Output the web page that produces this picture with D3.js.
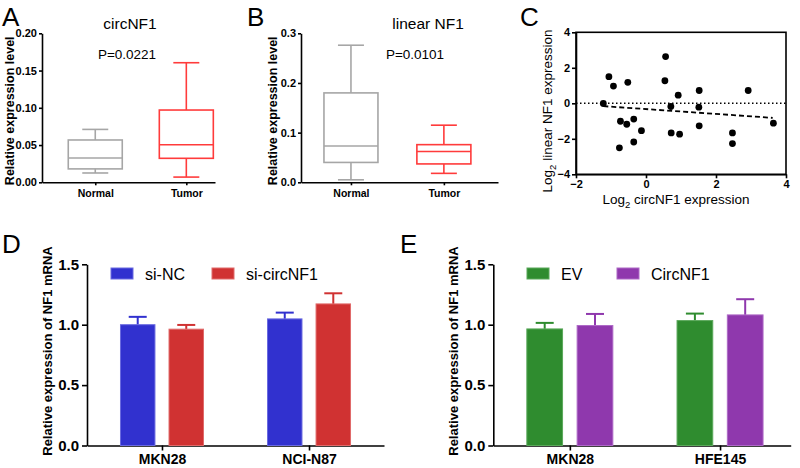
<!DOCTYPE html>
<html><head><meta charset="utf-8">
<script src="https://cdn.jsdelivr.net/npm/d3@7"></script>
<style>
body{margin:0;background:#fff}
svg{display:block}
text{font-family:"Liberation Sans",Arial,sans-serif}
</style>
</head><body>
<svg id="chart" width="800" height="468"></svg>
<script>
// ---------- DATA ----------
const boxCategories = ["Normal", "Tumor"];
// [min, q1, median, q3, max]
const circNF1Normal = [0.0125, 0.018, 0.0326, 0.0568, 0.071];
const circNF1Tumor  = [0.007, 0.0322, 0.0505, 0.097, 0.1605];
const linearNF1Normal = [0.005, 0.040, 0.073, 0.180, 0.276];
const linearNF1Tumor  = [0.018, 0.037, 0.062, 0.0758, 0.115];
const circTicks = [0, 0.05, 0.10, 0.15, 0.20];
const linearTicks = [0, 0.1, 0.2, 0.3];

const scatterX = [-1.22, -1.06, -0.93, -0.52, 0.56, 0.54, 0.92, 1.52, 2.92, 0.71, 1.51, -0.73, -0.55, -0.35, -0.13, -0.76, -0.35, 0.72, 0.96, 1.52, 2.47, 2.47, 3.64];
const scatterY = [-0.01, 1.50, 0.97, 1.18, 2.63, 1.27, 0.46, 0.72, 0.72, -0.18, -0.22, -1.01, -1.18, -0.89, -1.54, -2.51, -2.18, -1.67, -1.74, -1.27, -1.67, -2.27, -1.12];
const trendX = [-1.22, 3.62];
const trendY = [-0.16, -0.82];
const scatterXTicks = [-2, 0, 2, 4];
const scatterYTicks = [-4, -2, 0, 2, 4];

const groupsD = ["MKN28", "NCI-N87"];
const seriesD = ["si-NC", "si-circNF1"];
const siNC = [1.00, 1.048];
const siNCErr = [0.065, 0.052];
const siCircNF1 = [0.963, 1.172];
const siCircNF1Err = [0.035, 0.088];

const groupsE = ["MKN28", "HFE145"];
const seriesE = ["EV", "CircNF1"];
const ev = [0.965, 1.034];
const evErr = [0.050, 0.058];
const circNF1 = [0.993, 1.081];
const circNF1Err = [0.096, 0.130];
const barTicks = [0, 0.5, 1.0, 1.5];

// ---------- DRAW ----------
const svg = d3.select("#chart");
const FONT = '"Liberation Sans", Arial, sans-serif';

function letter(x, y, t) {
  svg.append("text").attr("x", x).attr("y", y).attr("font-size", 26).text(t);
}
function styleAxis(g, fs) {
  g.selectAll("path.domain").attr("stroke", "#000").attr("stroke-width", 1.6);
  g.selectAll(".tick line").attr("stroke", "#000").attr("stroke-width", 1.6);
  g.selectAll(".tick text").attr("font-family", FONT).attr("font-weight", "bold").attr("font-size", fs).attr("fill", "#000");
}

// ----- Box panels -----
function boxPanel(o) {
  const y = d3.scaleLinear().domain([0, o.ticks[o.ticks.length - 1]]).range([o.y0, o.y1]);
  const x = d3.scalePoint().domain(boxCategories).range([o.x0, o.x1]).padding(o.pad).align(o.align);
  const gy = svg.append("g").attr("transform", `translate(${o.x0},0)`)
    .call(d3.axisLeft(y).tickValues(o.ticks).tickFormat(d3.format(o.fmt)).tickSize(3).tickSizeOuter(0).tickPadding(2));
  styleAxis(gy, 11);
  const gx = svg.append("g").attr("transform", `translate(0,${o.y0})`)
    .call(d3.axisBottom(x).tickSize(3).tickSizeOuter(0).tickPadding(4));
  styleAxis(gx, 10.5);
  const colors = ["#a6a6a6", "#ff3b3b"];
  const bw = 54, cw = 26;
  [o.normal, o.tumor].forEach((s, i) => {
    const cx = x(boxCategories[i]);
    const g = svg.append("g").attr("stroke", colors[i]).attr("stroke-width", 1.6).attr("fill", "none");
    g.append("rect").attr("x", cx - bw / 2).attr("y", y(s[3])).attr("width", bw).attr("height", y(s[1]) - y(s[3])).attr("fill", "#fff");
    g.append("line").attr("x1", cx - bw / 2).attr("x2", cx + bw / 2).attr("y1", y(s[2])).attr("y2", y(s[2]));
    g.append("line").attr("x1", cx).attr("x2", cx).attr("y1", y(s[3])).attr("y2", y(s[4]));
    g.append("line").attr("x1", cx).attr("x2", cx).attr("y1", y(s[1])).attr("y2", y(s[0]));
    g.append("line").attr("x1", cx - cw / 2).attr("x2", cx + cw / 2).attr("y1", y(s[4])).attr("y2", y(s[4]));
    g.append("line").attr("x1", cx - cw / 2).attr("x2", cx + cw / 2).attr("y1", y(s[0])).attr("y2", y(s[0]));
  });
  svg.append("text").attr("transform", `translate(${o.ylabX},${(o.y0 + o.y1) / 2 + 3}) rotate(-90)`)
    .attr("text-anchor", "middle").attr("font-weight", "bold").attr("font-size", 12.5).text("Relative expression level");
  svg.append("text").attr("x", o.titleX).attr("y", 29).attr("text-anchor", "middle").attr("font-size", 15.5).text(o.title);
  svg.append("text").attr("x", o.pX).attr("y", 59).attr("text-anchor", "middle").attr("font-size", 13.5).text(o.p);
}

boxPanel({x0: 42, x1: 215, y0: 182.3, y1: 33.3, ticks: circTicks, fmt: ".2f", pad: 0.45, align: 0.65,
  normal: circNF1Normal, tumor: circNF1Tumor, ylabX: 14, title: "circNF1", titleX: 130, p: "P=0.0221", pX: 127});
boxPanel({x0: 301, x1: 498, y0: 182.3, y1: 33.3, ticks: linearTicks, fmt: ".1f", pad: 0.56, align: 0.48,
  normal: linearNF1Normal, tumor: linearNF1Tumor, ylabX: 277, title: "linear NF1", titleX: 428, p: "P=0.0101", pX: 415});

letter(2, 26, "A");
letter(247, 26, "B");
letter(520, 26, "C");
letter(2, 253, "D");
letter(400, 253, "E");

// ----- Scatter panel C -----
(function () {
  const x = d3.scaleLinear().domain([-2, 4]).range([576, 786]);
  const y = d3.scaleLinear().domain([-4, 4]).range([174.3, 32.3]);
  svg.append("rect").attr("x", x(-2)).attr("y", y(4)).attr("width", x(4) - x(-2)).attr("height", y(-4) - y(4))
    .attr("fill", "none").attr("stroke", "#000").attr("stroke-width", 1.6);
  const gx = svg.append("g").attr("transform", `translate(0,${y(-4)})`)
    .call(d3.axisBottom(x).tickValues(scatterXTicks).tickFormat(d3.format("d")).tickSize(4).tickSizeOuter(0).tickPadding(2));
  styleAxis(gx, 11);
  const gy = svg.append("g").attr("transform", `translate(${x(-2)},0)`)
    .call(d3.axisLeft(y).tickValues(scatterYTicks).tickFormat(d3.format("d")).tickSize(4).tickSizeOuter(0).tickPadding(2));
  styleAxis(gy, 11);
  svg.append("line").attr("x1", x(-2)).attr("x2", x(4)).attr("y1", y(0)).attr("y2", y(0))
    .attr("stroke", "#000").attr("stroke-width", 1.6).attr("stroke-dasharray", "1.5,2.5");
  svg.append("line").attr("x1", x(trendX[0])).attr("x2", x(trendX[1])).attr("y1", y(trendY[0])).attr("y2", y(trendY[1]))
    .attr("stroke", "#000").attr("stroke-width", 1.8).attr("stroke-dasharray", "5,3");
  svg.append("g").selectAll("circle").data(scatterX).join("circle")
    .attr("cx", d => x(d)).attr("cy", (d, i) => y(scatterY[i])).attr("r", 3.4).attr("fill", "#000");
  const yl = svg.append("text").attr("transform", `translate(552,${111}) rotate(-90)`).attr("text-anchor", "middle").attr("font-size", 13.5);
  yl.append("tspan").text("Log");
  yl.append("tspan").attr("font-size", 9.5).attr("dy", 4).text("2");
  yl.append("tspan").attr("dy", -4).text(" linear NF1 expression");
  const xl = svg.append("text").attr("x", 676).attr("y", 204).attr("text-anchor", "middle").attr("font-size", 13.5);
  xl.append("tspan").text("Log");
  xl.append("tspan").attr("font-size", 9.5).attr("dy", 4).text("2");
  xl.append("tspan").attr("dy", -4).text(" circNF1 expression");
})();

// ----- Bar panels -----
function barPanel(o) {
  const y = d3.scaleLinear().domain([0, 1.5]).range([445.5, 264.3]);
  const gx0 = d3.scalePoint().domain(o.groups).range([o.x0, o.x1]).padding(o.pad).align(o.align);
  const inner = d3.scaleBand().domain(o.series).range([-o.half, o.half]).paddingInner(o.pi);
  const gy = svg.append("g").attr("transform", `translate(${o.x0},0)`)
    .call(d3.axisLeft(y).tickValues(barTicks).tickFormat(d3.format(".1f")).tickSize(5).tickSizeOuter(0).tickPadding(3));
  styleAxis(gy, 15);
  const gx = svg.append("g").attr("transform", `translate(0,${y(0)})`)
    .call(d3.axisBottom(gx0).tickSize(5).tickSizeOuter(0).tickPadding(4));
  styleAxis(gx, 14);
  const vals = [o.v0, o.v1], errs = [o.e0, o.e1];
  o.series.forEach((s, si) => {
    const g = svg.append("g");
    o.groups.forEach((gname, gi) => {
      const bx = gx0(gname) + inner(s);
      const bw = inner.bandwidth();
      const v = vals[si][gi], e = errs[si][gi];
      const cx = bx + bw / 2;
      g.append("line").attr("x1", cx).attr("x2", cx).attr("y1", y(v)).attr("y2", y(v + e))
        .attr("stroke", o.colors[si]).attr("stroke-width", 2);
      g.append("line").attr("x1", cx - 9).attr("x2", cx + 9).attr("y1", y(v + e)).attr("y2", y(v + e))
        .attr("stroke", o.colors[si]).attr("stroke-width", 2);
      g.append("rect").attr("x", bx).attr("y", y(v)).attr("width", bw).attr("height", y(0) - y(v))
        .attr("fill", o.colors[si]).attr("stroke", o.edges[si]).attr("stroke-width", 1);
    });
  });
  // legend
  o.series.forEach((s, si) => {
    svg.append("rect").attr("x", o.legX[si]).attr("y", 268).attr("width", 22).attr("height", 11)
      .attr("fill", o.colors[si]).attr("stroke", o.edges[si]).attr("stroke-width", 1);
    svg.append("text").attr("x", o.legX[si] + 34).attr("y", 280).attr("font-size", 16).text(s);
  });
  svg.append("text").attr("transform", `translate(${o.ylabX},351) rotate(-90)`)
    .attr("text-anchor", "middle").attr("font-weight", "bold").attr("font-size", 13).text("Relative expression of NF1 mRNA");
}

barPanel({x0: 87, x1: 384, groups: groupsD, series: seriesD, pad: 0.51, align: 0.5, half: 41.5, pi: 0.29,
  v0: siNC, v1: siCircNF1, e0: siNCErr, e1: siCircNF1Err,
  colors: ["#3131cf", "#d03232"], edges: ["#6a6ae0", "#e06a6a"], legX: [111, 212], ylabX: 52});
barPanel({x0: 493.3, x1: 790.7, groups: groupsE, series: seriesE, pad: 0.49, align: 0.52, half: 43, pi: 0.29,
  v0: ev, v1: circNF1, e0: evErr, e1: circNF1Err,
  colors: ["#2f8c2f", "#8f38ad"], edges: ["#5aa85a", "#ad68c6"], legX: [527, 617], ylabX: 458});
</script>
</body></html>
